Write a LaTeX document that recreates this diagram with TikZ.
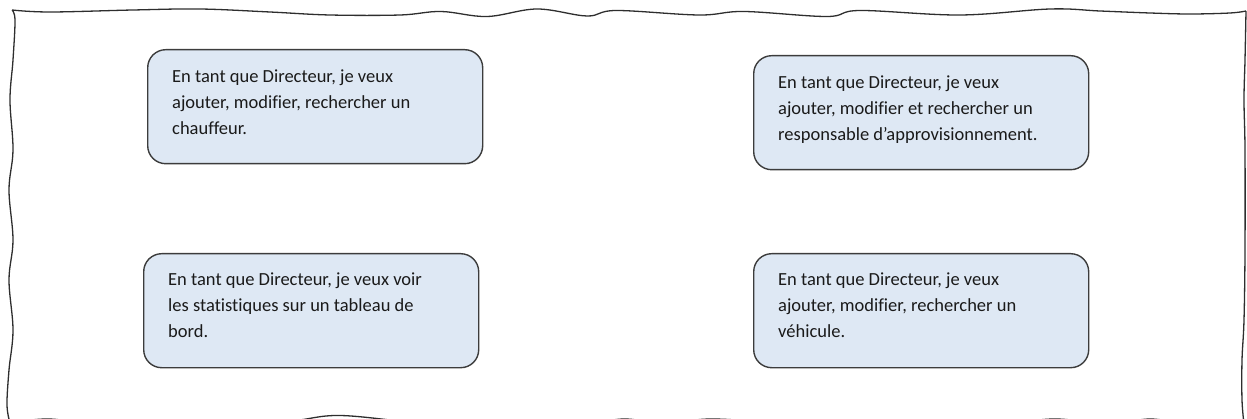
\documentclass[tikz,border=0pt]{standalone}
\usepackage{fontspec}
\setmainfont{Carlito}[Ligatures=NoCommon]
\definecolor{storyfill}{HTML}{DEE8F4}
\definecolor{storyline}{HTML}{3C3C3C}
\definecolor{storytext}{HTML}{1A1A1A}
\definecolor{frameline}{HTML}{2E2E2E}
\tikzset{
  story/.style={draw=storyline, line width=1.4pt, fill=storyfill,
    rounded corners=18pt, minimum width=335pt, minimum height=114pt,
    inner sep=0pt, anchor=north west},
  storytxt/.style={anchor=base west, inner sep=0pt, text=storytext},
  frame/.style={draw=frameline, line width=1.3pt, line join=round}
}
\newcommand{\storytext}[1]{\parbox[t]{320pt}{\fontsize{18.5}{25.8}\selectfont #1}}
\begin{document}
\begin{tikzpicture}[x=1pt,y=-1pt]
\useasboundingbox (0,0) rectangle (1247,419);

% hand-drawn outer frame
\draw[frame]
  plot[smooth, tension=0.6] coordinates {(12,10) (50,12) (133,10) (200,9) (270,12) (330,15) (400,15)
    (441,11.5) (487,16.5) (537,9) (587,16) (616,10.5) (699,15) (744,11.5) (827,16.5) (860,10.5)
    (960,15) (1050,9) (1100,11) (1150,13) (1190,14) (1230,13) (1246,11)}
  plot[smooth, tension=0.6] coordinates {(1246,11) (1245,60) (1244,100) (1245,150) (1245,250)
    (1244,320) (1242,360) (1242,400) (1244,424)}
  plot[smooth, tension=0.6] coordinates {(1244,424) (1190,424) (1150,419) (1110,424) (1055,419)
    (1000,424) (900,425) (800,424) (712,419) (665,424) (625,419) (580,424) (480,425) (420,423)
    (340,415.5) (290,421) (220,424) (160,420.5) (100,424) (48,419) (10,423)}
  plot[smooth, tension=0.6] coordinates {(10,423) (7,405) (9,370) (13,330) (9,280) (13,240) (9,190)
    (13,150) (10,100) (13,60) (15,20) (12,10)};

% user stories
\node[story] (s1) at (147,49) {};
\node[story] (s2) at (753,55) {};
\node[story] (s3) at (143,253) {};
\node[story] (s4) at (753,253) {};

\node[storytxt] (t1) at ([shift={(25,33.5)}]s1.north west)
  {\storytext{En tant que Directeur, je veux\\ajouter, modifier, rechercher un\\chauffeur.}};
\node[storytxt] (t2) at ([shift={(25,33.5)}]s2.north west)
  {\storytext{En tant que Directeur, je veux\\ajouter, modifier et rechercher un\\responsable d’approvisionnement.}};
\node[storytxt] (t3) at ([shift={(25,32.5)}]s3.north west)
  {\storytext{En tant que Directeur, je veux voir\\les statistiques sur un tableau de\\bord.}};
\node[storytxt] (t4) at ([shift={(25,33)}]s4.north west)
  {\storytext{En tant que Directeur, je veux\\ajouter, modifier, rechercher un\\véhicule.}};
\end{tikzpicture}
\end{document}
